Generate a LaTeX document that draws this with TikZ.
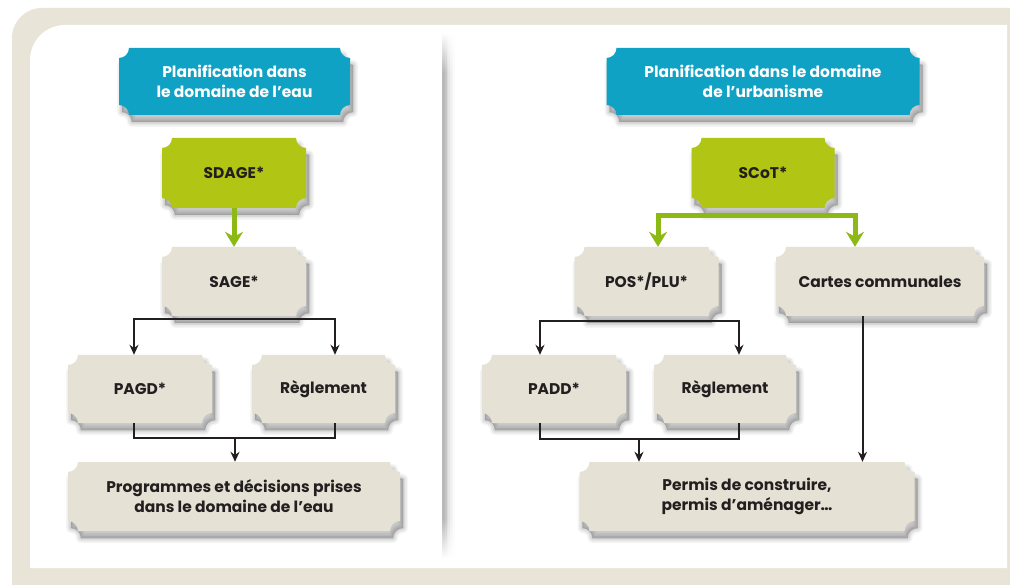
\documentclass[tikz,border=0pt]{standalone}
\usepackage{fontspec}
\setmainfont{Poppins}
\usetikzlibrary{calc,arrows.meta}
\definecolor{tealc}{RGB}{16,162,196}
\definecolor{greenc}{RGB}{176,197,20}
\definecolor{garrow}{RGB}{140,185,20}
\definecolor{boxc}{RGB}{229,225,212}
\definecolor{framec}{RGB}{232,228,216}
\definecolor{ink}{RGB}{35,31,32}
\tikzset{
  box/.style={inner sep=0pt, align=center, font=\bfseries\fontsize{15.5}{20}\selectfont, text=ink},
  ttl/.style={box, text=white},
  line/.style={draw=ink, line width=2pt},
  arr/.style={line, -{Stealth[length=10pt,width=9pt]}},
  arrtwo/.style={line, {Stealth[length=10pt,width=9pt]}-{Stealth[length=10pt,width=9pt]}},
  garr/.style={draw=garrow, line width=5pt, -{Stealth[length=15pt,width=18pt,inset=5pt]}},
  garrtwo/.style={draw=garrow, line width=5pt, line join=miter, {Stealth[length=15pt,width=18pt,inset=5pt]}-{Stealth[length=15pt,width=18pt,inset=5pt]}}
}
% ticket shape with concave corners: centre x, centre y, width, height, colour
\newcommand\tkt[5]{%
  \pgfmathsetmacro\hw{#3/2}\pgfmathsetmacro\hh{#4/2}%
  \foreach \s/\o in {10/0.04,7/0.05,4/0.06,1/0.08}{%
    \fill[black, opacity=\o, draw=black, line width=\s pt, line join=round, shift={(3,-7)}]
      (#1-\hw+10,#2+\hh) -- (#1+\hw-10,#2+\hh) arc[start angle=180,end angle=270,radius=10pt]
      -- (#1+\hw,#2-\hh+10) arc[start angle=90,end angle=180,radius=10pt]
      -- (#1-\hw+10,#2-\hh) arc[start angle=0,end angle=90,radius=10pt]
      -- (#1-\hw,#2+\hh-10) arc[start angle=270,end angle=360,radius=10pt] -- cycle;}%
  \fill[#5]
      (#1-\hw+10,#2+\hh) -- (#1+\hw-10,#2+\hh) arc[start angle=180,end angle=270,radius=10pt]
      -- (#1+\hw,#2-\hh+10) arc[start angle=90,end angle=180,radius=10pt]
      -- (#1-\hw+10,#2-\hh) arc[start angle=0,end angle=90,radius=10pt]
      -- (#1-\hw,#2+\hh-10) arc[start angle=270,end angle=360,radius=10pt] -- cycle;}
\begin{document}
\begin{tikzpicture}[x=1pt,y=1pt]
\useasboundingbox (0,0) rectangle (1010,-585);
\fill[white] (0,0) rectangle (1010,-585);
\fill[framec] (12,-585) -- (12,-38) arc[start angle=180,end angle=90,radius=30pt] -- (1010,-8) -- (1010,-585) -- cycle;
\fill[white] (30,-568) -- (30,-60) arc[start angle=180,end angle=90,radius=35pt] -- (1007,-25) -- (1007,-568) -- cycle;
% divider between the two panels: grey line with a soft shadow, fading at both ends
\foreach \j/\o in {0/0.55,1/0.55,2/0.45,3/0.3,4/0.2,5/0.12,6/0.07,7/0.04}{
  \foreach \i in {0,...,19}{
    \fill[gray, opacity=\o*\i/20] (442+1.6*\j,-32-2*\i) rectangle (443.6+1.6*\j,-34-2*\i);
    \fill[gray, opacity=\o*\i/20] (442+1.6*\j,-558+2*\i) rectangle (443.6+1.6*\j,-560+2*\i);
  }
  \fill[gray, opacity=\o] (442+1.6*\j,-72) rectangle (443.6+1.6*\j,-520);
}

% left panel
\tkt{234.5}{-81.5}{231}{67}{tealc}
\node[ttl, minimum width=231, minimum height=67] (t1) at (234.5,-81.5) {Planification dans\\le domaine de l’eau};
\tkt{234}{-173}{144}{70}{greenc}
\node[box, minimum width=144, minimum height=70] (sdage) at (234,-173) {SDAGE*};
\tkt{234}{-281.5}{144}{69}{boxc}
\node[box, minimum width=144, minimum height=69] (sage) at (234,-281.5) {SAGE*};
\tkt{140}{-389}{144}{68}{boxc}
\node[box, minimum width=144, minimum height=68] (pagd) at (140,-389) {PAGD*};
\tkt{323.5}{-389}{143}{68}{boxc}
\node[box, minimum width=143, minimum height=68] (regl1) at (323.5,-389) {Règlement};
\tkt{234}{-496.5}{332}{69}{boxc}
\node[box, minimum width=332, minimum height=69] (prog) at (234,-496.5) {Programmes et décisions prises\\dans le domaine de l’eau};

% right panel
\tkt{763}{-81.5}{313}{67}{tealc}
\node[ttl, minimum width=313, minimum height=67] (t2) at (763,-81.5) {Planification dans le domaine\\de l’urbanisme};
\tkt{763}{-173}{143}{70}{greenc}
\node[box, minimum width=143, minimum height=70] (scot) at (763,-173) {SCoT*};
\tkt{646.5}{-281.5}{144}{69}{boxc}
\node[box, minimum width=144, minimum height=69] (pos) at (646.5,-281.5) {POS*/PLU*};
\tkt{880}{-281.5}{208}{69}{boxc}
\node[box, minimum width=208, minimum height=69] (cartes) at (880,-281.5) {Cartes communales};
\tkt{554}{-389}{144}{68}{boxc}
\node[box, minimum width=144, minimum height=68] (padd) at (554,-389) {PADD*};
\tkt{725}{-389}{142}{68}{boxc}
\node[box, minimum width=142, minimum height=68] (regl2) at (725,-389) {Règlement};
\tkt{747}{-496.5}{335}{69}{boxc}
\node[box, minimum width=335, minimum height=69] (permis) at (747,-496.5) {Permis de construire,\\permis d’aménager…};

% connectors left
\draw[garr] (sdage.south) -- (sage.north);
\draw[arrtwo] ($(pagd.north)+(-6,0)$) |- ($(sage.south)+(0,-3)$) -| ($(regl1.north)+(11.5,0)$);
\coordinate (j1) at (235,-438);
\draw[line] ($(pagd.south)+(-6,0)$) |- (j1) -| ($(regl1.south)+(11.5,0)$);
\draw[arr] (j1) -- (j1 |- prog.north);

% connectors right
\draw[garrtwo] ($(pos.north)+(11.5,0)$) |- ($(scot.south)+(0,-7)$) -| ($(cartes.north)+(-25,0)$);
\draw[arrtwo] ($(padd.north)+(-14,0)$) |- ($(pos.south)+(0,-5)$) -| ($(regl2.north)+(14,0)$);
\coordinate (j2) at (639,-439);
\draw[line] ($(padd.south)+(-14,0)$) |- (j2) -| ($(regl2.south)+(14,0)$);
\draw[arr] (j2) -- (j2 |- permis.north);
\coordinate (c1) at ($(cartes.south)+(-17.5,0)$);
\draw[arr] (c1) -- (c1 |- permis.north);
\end{tikzpicture}
\end{document}
